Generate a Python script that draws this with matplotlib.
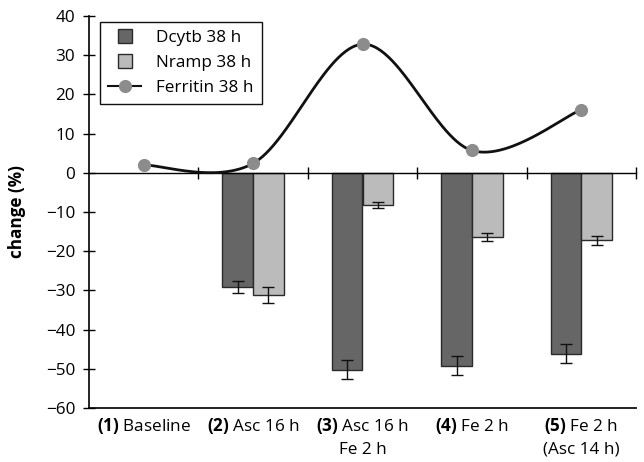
import numpy as np
import matplotlib
matplotlib.use("Agg")
import matplotlib.pyplot as plt
from matplotlib.lines import Line2D
import matplotlib.transforms as mtransforms

categories = ["(1)", "(2)", "(3)", "(4)", "(5)"]
cat_text = ["Baseline", "Asc 16 h", "Asc 16 h\nFe 2 h", "Fe 2 h", "Fe 2 h\n(Asc 14 h)"]
dcytb = [np.nan, -29.2, -50.2, -49.2, -46.2]
dcytb_err = [np.nan, 1.5, 2.5, 2.5, 2.4]
nramp = [np.nan, -31.2, -8.2, -16.3, -17.2]
nramp_err = [np.nan, 2.0, 0.7, 1.0, 1.1]
ferritin = [2.0, 2.4, 32.8, 5.7, 16.1]

FONT = ["Open Sans", "DejaVu Sans"]
plt.rcParams['font.family'] = FONT
plt.rcParams['mathtext.fontset'] = 'custom'
plt.rcParams['mathtext.bf'] = 'Open Sans:bold'
plt.rcParams['mathtext.rm'] = 'Open Sans'

FS = 12.3
fig = plt.figure(figsize=(6.44, 4.62), dpi=100)
ax = fig.add_axes([89/644, 1-408/462, (636-89)/644, (408-16)/462])

x = np.arange(len(categories))
bw = 0.28
dark = "#666666"
light = "#bbbbbb"
edge = "#2a2a2a"
ax.bar(x - bw/2, dcytb, bw, color=dark, edgecolor=edge, linewidth=1.0, zorder=2)
ax.bar(x + bw/2, nramp, bw, color=light, edgecolor=edge, linewidth=1.0, zorder=2)
ax.errorbar(x - bw/2, dcytb, yerr=dcytb_err, fmt='none', ecolor='#111111', elinewidth=1.0, capsize=4, capthick=1.0, zorder=3)
ax.errorbar(x + bw/2, nramp, yerr=nramp_err, fmt='none', ecolor='#111111', elinewidth=1.0, capsize=4, capthick=1.0, zorder=3)

# Smoothed line (Catmull-Rom style, like spreadsheet smoothing)
px = np.array(x, dtype=float)
py = np.array(ferritin, dtype=float)
n = len(px)
xs, ys = [], []
for i in range(n - 1):
    p0 = (px[i-1], py[i-1]) if i > 0 else (px[i], py[i])
    p1 = (px[i], py[i])
    p2 = (px[i+1], py[i+1])
    p3 = (px[i+2], py[i+2]) if i + 2 < n else (px[i+1], py[i+1])
    c1 = (p1[0] + (p2[0]-p0[0])/6, p1[1] + (p2[1]-p0[1])/6)
    c2 = (p2[0] - (p3[0]-p1[0])/6, p2[1] - (p3[1]-p1[1])/6)
    t = np.linspace(0, 1, 60)
    bx = (1-t)**3*p1[0] + 3*(1-t)**2*t*c1[0] + 3*(1-t)*t**2*c2[0] + t**3*p2[0]
    by = (1-t)**3*p1[1] + 3*(1-t)**2*t*c1[1] + 3*(1-t)*t**2*c2[1] + t**3*p2[1]
    xs.extend(bx); ys.extend(by)
ax.plot(xs, ys, color='#111111', linewidth=2.0, zorder=4)
ax.plot(px, py, 'o', color='#8c8c8c', markersize=9.5, markeredgewidth=0, zorder=5)

ax.set_xlim(-0.5, 4.5)
ax.set_ylim(-60, 40)
ax.set_yticks(np.arange(-60, 41, 10))
ax.set_yticklabels([("\u2212%d" % -v) if v < 0 else str(v) for v in range(-60, 41, 10)])
ax.tick_params(axis='y', direction='inout', length=8, width=1.0, labelsize=FS, pad=6)

ax.spines['top'].set_visible(False)
ax.spines['right'].set_visible(False)
ax.spines['left'].set_linewidth(1.2)
ax.spines['bottom'].set_position(('data', 0))
ax.spines['bottom'].set_linewidth(1.0)
ax.set_xticks([0.5, 1.5, 2.5, 3.5, 4.5])
ax.set_xticklabels([])
ax.tick_params(axis='x', direction='inout', length=8, width=1.0)
ax.axhline(-60, color='#222222', linewidth=1.4, clip_on=False, zorder=1)

trans = mtransforms.blended_transform_factory(ax.transData, ax.transAxes)
for i, (c, t) in enumerate(zip(categories, cat_text)):
    lines = t.split("\n")
    first = r"$\mathbf{" + c + "}$ " + lines[0]
    label = first + ("\n" + lines[1] if len(lines) > 1 else "")
    ax.text(i, -0.02, label, transform=trans, ha='center', va='top', fontsize=FS, linespacing=1.5)

ax.set_ylabel("change (%)", fontsize=FS, fontweight='bold', labelpad=14)

handles = [Line2D([0], [0], linestyle='none', marker='s', markersize=10.5,
                  markerfacecolor=dark, markeredgecolor=edge, markeredgewidth=1.0, label="Dcytb 38 h"),
           Line2D([0], [0], linestyle='none', marker='s', markersize=10.5,
                  markerfacecolor=light, markeredgecolor=edge, markeredgewidth=1.0, label="Nramp 38 h"),
           Line2D([0], [0], color='#111111', lw=1.5, marker='o', markersize=9.5,
                  markerfacecolor='#8c8c8c', markeredgewidth=0, label="Ferritin 38 h")]
leg = ax.legend(handles=handles, loc='upper left', bbox_to_anchor=(0.02, 0.985), borderaxespad=0,
                fancybox=False, edgecolor='#111111', fontsize=FS, framealpha=1,
                handlelength=1.9, handletextpad=0.9, labelspacing=0.5, borderpad=0.5)
leg.get_frame().set_linewidth(1.0)

fig.savefig("out.png", dpi=100)
